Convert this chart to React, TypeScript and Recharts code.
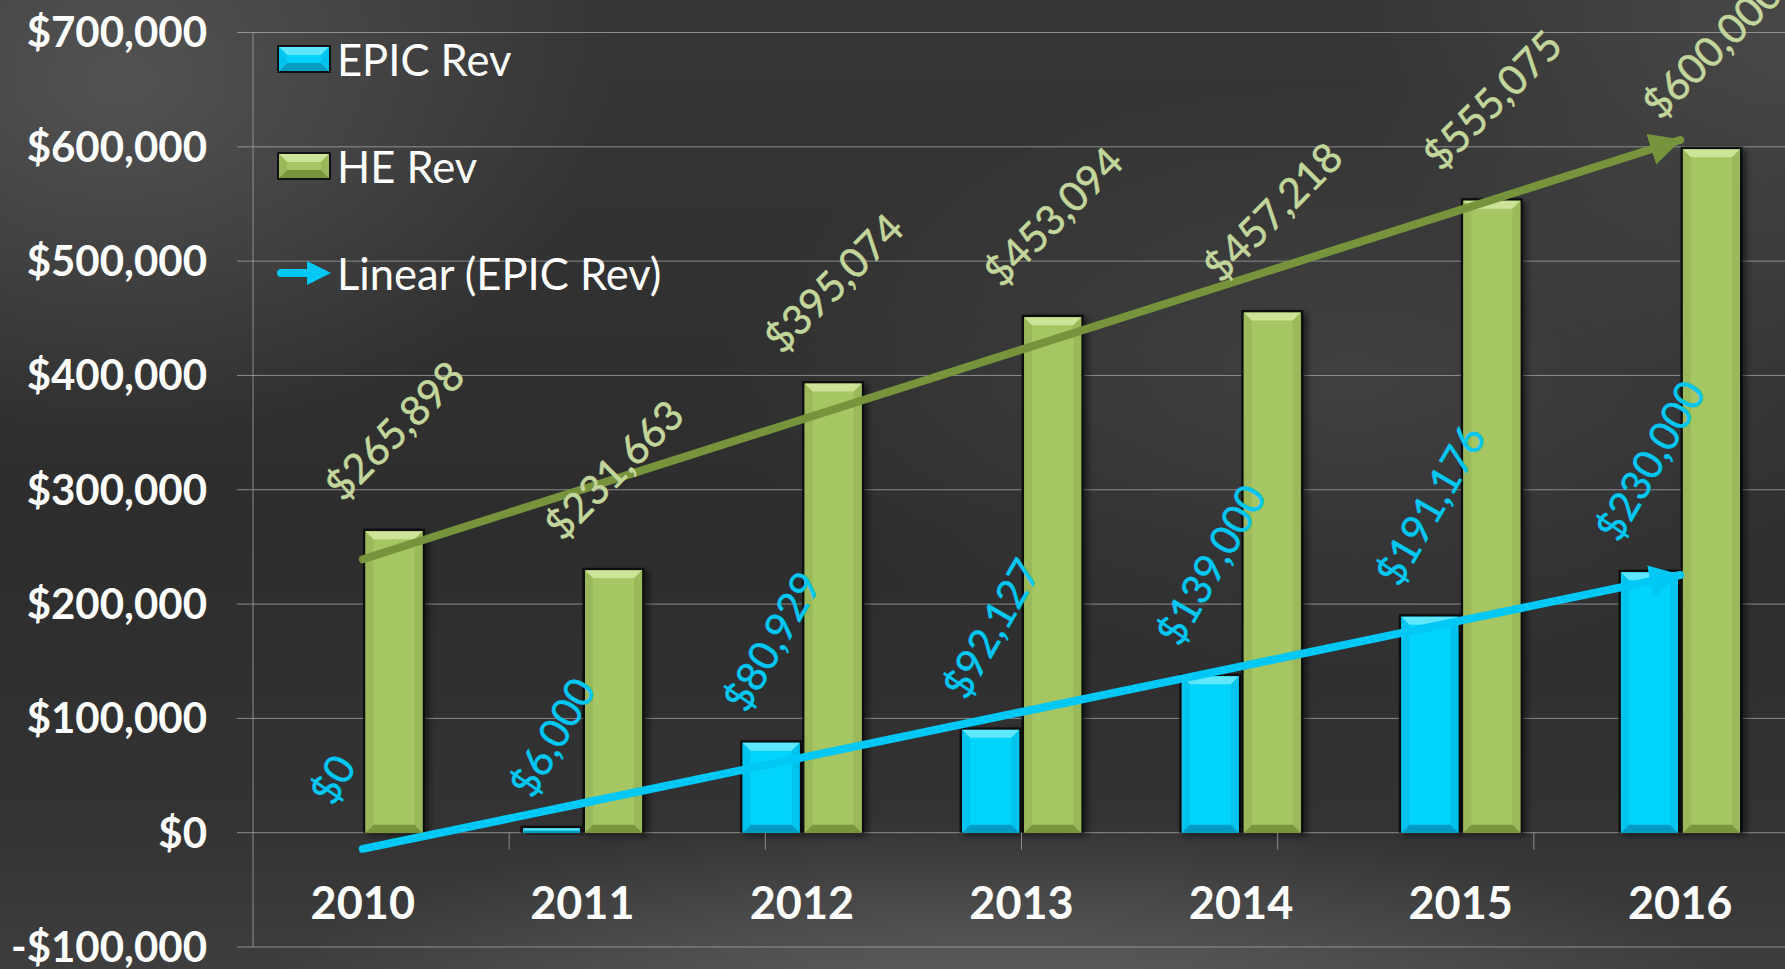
import React from 'react';
import {
  ComposedChart,
  Bar,
  Line,
  XAxis,
  YAxis,
  CartesianGrid,
  LabelList,
  Legend,
  ReferenceLine,
} from 'recharts';

// ---------- data ----------
const years = ['2010', '2011', '2012', '2013', '2014', '2015', '2016'];
const epicRev = [0, 6000, 80929, 92127, 139000, 191176, 230000];
const heRev = [265898, 231663, 395074, 453094, 457218, 555075, 600000];
const yTicks = [-100000, 0, 100000, 200000, 300000, 400000, 500000, 600000, 700000];
const categoryBoundaries = [1, 2, 3, 4, 5, 6];
const legendItems = ['EPIC Rev', 'HE Rev', 'Linear (EPIC Rev)'];

// least-squares linear trend (as Excel's "Linear" trendline)
function linearTrend(values: number[]): number[] {
  const n = values.length;
  const mx = (n - 1) / 2;
  const my = values.reduce((a, b) => a + b, 0) / n;
  let sxy = 0;
  let sxx = 0;
  values.forEach((v, i) => {
    sxy += (i - mx) * (v - my);
    sxx += (i - mx) * (i - mx);
  });
  const slope = sxy / sxx;
  return values.map((_, i) => my + slope * (i - mx));
}

const epicTrend = linearTrend(epicRev);
const heTrend = linearTrend(heRev);

const data = years.map((year, i) => ({
  year,
  epic: epicRev[i],
  he: heRev[i],
  epicTrend: epicTrend[i],
  heTrend: heTrend[i],
}));

// ---------- styles ----------
const FONT = 'Lato, "Open Sans", sans-serif';
const CYAN = { main: '#00d4fd', top: '#5fe7ff', side: '#00c4ee', bottom: '#009cc4' };
const GREEN = { main: '#a6c563', top: '#cce398', side: '#9bb95a', bottom: '#7a933e' };
const EPIC_LABEL = '#00c6f2';
const HE_LABEL = '#c3d69b';
const EPIC_TREND = '#00c8f6';
const HE_TREND = '#77933c';
const GRID = 'rgba(170,170,170,0.75)';

const fmt = (v: number) =>
  (v < 0 ? '-' : '') + '$' + Math.abs(Math.round(v)).toLocaleString('en-US');

function textWidth(t: string, fs: number) {
  let w = 0;
  for (const ch of t) w += ch === ',' ? 0.25 : 0.58;
  return w * fs;
}

function bevelShape(c: typeof CYAN) {
  return (props: any) => {
    const { x, y, width, height } = props;
    if (!height || height <= 0 || !width) return <g />;
    const bw = 2.5;
    const ix = x + bw;
    const iy = y + bw;
    const iw = Math.max(0, width - 2 * bw);
    const ih = Math.max(0, height - bw);
    const b = Math.min(8, ih / 2, iw / 2);
    return (
      <g filter="url(#barShadow)">
        <rect x={x} y={y} width={width} height={height} fill="#0d0d0d" />
        <rect x={ix} y={iy} width={iw} height={ih} fill={c.main} />
        <polygon
          points={`${ix},${iy} ${ix + b},${iy + b} ${ix + b},${iy + ih - b} ${ix},${iy + ih}`}
          fill={c.side}
        />
        <polygon
          points={`${ix + iw},${iy} ${ix + iw - b},${iy + b} ${ix + iw - b},${iy + ih - b} ${ix + iw},${iy + ih}`}
          fill={c.side}
        />
        <polygon
          points={`${ix},${iy + ih} ${ix + b},${iy + ih - b} ${ix + iw - b},${iy + ih - b} ${ix + iw},${iy + ih}`}
          fill={c.bottom}
        />
        <polygon
          points={`${ix},${iy} ${ix + iw},${iy} ${ix + iw - b},${iy + b} ${ix + b},${iy + b}`}
          fill={c.top}
        />
      </g>
    );
  };
}

function rotatedLabel(color: string, angleDeg: number) {
  return (props: any) => {
    const vb = props.viewBox || {};
    const x = props.x ?? vb.x;
    const y = props.y ?? vb.y;
    const width = props.width ?? vb.width;
    const value = props.value;
    if (value === undefined || value === null) return null;
    const text = fmt(Number(value));
    const fs = 41;
    const L = textWidth(text, fs);
    const h = fs * 0.78;
    const a = (angleDeg * Math.PI) / 180;
    const boxH = L * Math.sin(a) + h * Math.cos(a);
    const cx = x + width / 2;
    const cy = y - 25 - boxH / 2;
    return (
      <text
        x={cx}
        y={cy}
        fill={color}
        stroke={color}
        strokeWidth={0.5}
        fontSize={fs}
        fontFamily={FONT}
        textAnchor="middle"
        dominantBaseline="central"
        transform={`rotate(${-angleDeg} ${cx} ${cy})`}
      >
        {text}
      </text>
    );
  };
}

const XTick = (props: any) => {
  const { x, y, payload } = props;
  return (
    <text
      x={x}
      y={y - 45}
      fill="#ffffff"
      fontSize={45}
      fontWeight={700}
      fontFamily={FONT}
      textAnchor="middle"
      dominantBaseline="central"
    >
      {payload.value}
    </text>
  );
};

const Swatch = ({ c }: { c: typeof CYAN }) => (
  <svg width={54} height={28} style={{ display: 'block' }}>
    <rect x={0} y={0} width={54} height={28} fill="#111" />
    <rect x={2} y={2} width={50} height={24} fill={c.main} />
    <polygon points="2,2 52,2 44,10 10,10" fill={c.top} />
    <polygon points="2,26 10,18 44,18 52,26" fill={c.bottom} />
    <polygon points="2,2 10,10 10,18 2,26" fill={c.side} />
    <polygon points="52,2 44,10 44,18 52,26" fill={c.side} />
  </svg>
);

const ArrowSwatch = () => (
  <svg width={54} height={28} style={{ display: 'block' }}>
    <line x1={4} y1={14} x2={36} y2={14} stroke={EPIC_TREND} strokeWidth={8} strokeLinecap="round" />
    <polygon points="30,2 54,14 30,26" fill={EPIC_TREND} />
  </svg>
);

const renderLegend = () => (
  <div style={{ fontFamily: FONT, color: '#ffffff', fontSize: 43.5 }}>
    {legendItems.map((name, i) => (
      <div
        key={name}
        style={{ display: 'flex', alignItems: 'center', height: 107, lineHeight: '44px' }}
      >
        {i === 0 && <Swatch c={CYAN} />}
        {i === 1 && <Swatch c={GREEN} />}
        {i === 2 && <ArrowSwatch />}
        <span style={{ marginLeft: 6, whiteSpace: 'nowrap' }}>{name}</span>
      </div>
    ))}
  </div>
);

export default function App() {
  return (
    <div
      style={{
        position: 'fixed',
        left: 0,
        top: 0,
        width: 1785,
        height: 969,
        overflow: 'hidden',
        background: [
          'radial-gradient(ellipse 1000px 260px at 1000px 1010px, rgba(125,125,125,0.55), rgba(125,125,125,0) 75%)',
          'radial-gradient(ellipse 700px 520px at 120px 80px, rgba(95,95,95,0.7), rgba(95,95,95,0) 70%)',
          'radial-gradient(ellipse 900px 420px at 1350px 380px, rgba(85,85,85,0.45), rgba(85,85,85,0) 70%)',
          'radial-gradient(ellipse 600px 500px at 1780px 40px, rgba(90,90,90,0.5), rgba(90,90,90,0) 70%)',
          'linear-gradient(180deg, #363636 0%, #2d2d2d 55%, #333333 85%, #3e3e3e 100%)',
        ].join(', '),
      }}
    >
      <ComposedChart
        width={1790}
        height={969}
        data={data}
        margin={{ top: 32.5, right: 0, bottom: 0, left: 0 }}
        barGap={0}
        barSize={62}
      >
        <defs>
          <filter id="barShadow" x="-20%" y="-10%" width="150%" height="130%">
            <feDropShadow dx={4} dy={3} stdDeviation={3} floodColor="#000" floodOpacity={0.5} />
          </filter>
          <marker
            id="arrowBlue"
            viewBox="0 0 10 10"
            refX={9.5}
            refY={5}
            markerWidth={4}
            markerHeight={4}
            orient="auto"
            markerUnits="strokeWidth"
          >
            <path d="M0,0 L10,5 L0,10 z" fill={EPIC_TREND} />
          </marker>
          <marker
            id="arrowGreen"
            viewBox="0 0 10 10"
            refX={9.5}
            refY={5}
            markerWidth={4}
            markerHeight={4}
            orient="auto"
            markerUnits="strokeWidth"
          >
            <path d="M0,0 L10,5 L0,10 z" fill={HE_TREND} />
          </marker>
        </defs>
        <CartesianGrid vertical={false} stroke={GRID} strokeWidth={1} />
        <XAxis
          dataKey="year"
          type="category"
          axisLine={false}
          tickLine={false}
          tickSize={0}
          tickMargin={0}
          height={22}
          tick={<XTick />}
          interval={0}
        />
        <XAxis xAxisId="num" type="number" domain={[0, 7]} hide allowDataOverflow />
        <YAxis
          type="number"
          domain={[-100000, 700000]}
          ticks={yTicks}
          interval={0}
          width={253}
          tickSize={16}
          tickMargin={30}
          axisLine={{ stroke: GRID }}
          tickLine={{ stroke: GRID }}
          tickFormatter={fmt}
          tick={{ fill: '#ffffff', fontSize: 42, fontWeight: 700, fontFamily: FONT }}
          allowDataOverflow
        />
        {categoryBoundaries.map((b) => (
          <ReferenceLine
            key={b}
            xAxisId="num"
            segment={[
              { x: b, y: 0 },
              { x: b, y: -15000 },
            ]}
            stroke={GRID}
            strokeWidth={1}
            ifOverflow="visible"
          />
        ))}
        <Legend
          layout="vertical"
          align="center"
          verticalAlign="middle"
          content={renderLegend}
          wrapperStyle={{ left: 277, top: 5, width: 'auto', height: 'auto' }}
        />
        <Bar dataKey="epic" name="EPIC Rev" shape={bevelShape(CYAN)} isAnimationActive={false}>
          <LabelList dataKey="epic" content={rotatedLabel(EPIC_LABEL, 60)} />
        </Bar>
        <Bar dataKey="he" name="HE Rev" shape={bevelShape(GREEN)} isAnimationActive={false}>
          <LabelList dataKey="he" content={rotatedLabel(HE_LABEL, 45)} />
        </Bar>
        <Line
          dataKey="heTrend"
          name="Linear (HE Rev)"
          type="linear"
          stroke={HE_TREND}
          strokeWidth={8}
          strokeLinecap="round"
          dot={false}
          activeDot={false}
          markerEnd="url(#arrowGreen)"
          isAnimationActive={false}
          legendType="none"
        />
        <Line
          dataKey="epicTrend"
          name="Linear (EPIC Rev)"
          type="linear"
          stroke={EPIC_TREND}
          strokeWidth={8}
          strokeLinecap="round"
          dot={false}
          activeDot={false}
          markerEnd="url(#arrowBlue)"
          isAnimationActive={false}
        />
      </ComposedChart>
    </div>
  );
}
